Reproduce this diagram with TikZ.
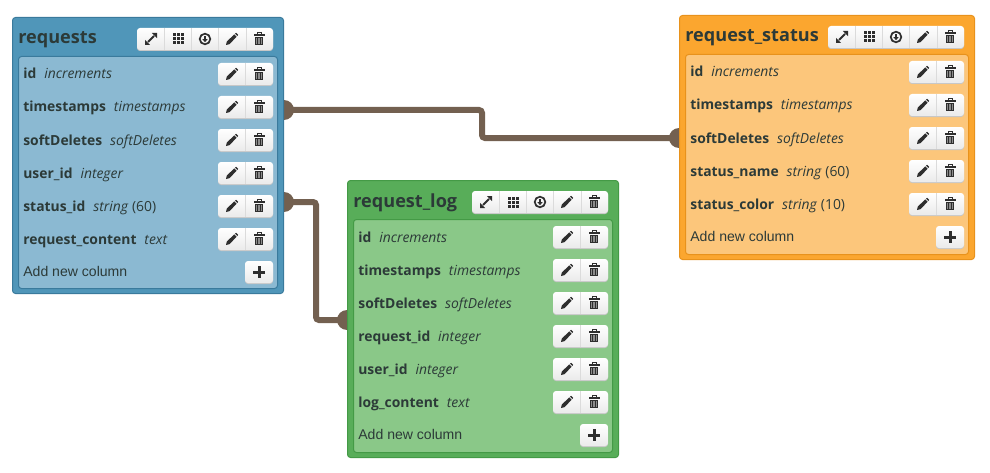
\documentclass[tikz,border=0pt]{standalone}
\usepackage{fontspec}
\setmainfont{Open Sans}
\newfontfamily\addfont{Liberation Sans}
\usepackage{tikz}
\usetikzlibrary{arrows.meta, positioning, calc}
\usepackage{xcolor}
\definecolor{bluehead}{HTML}{5096B9}
\definecolor{bluebody}{HTML}{8BB9D2}
\definecolor{blueedge}{HTML}{3A7A9C}
\definecolor{orangehead}{HTML}{FBA62F}
\definecolor{orangebody}{HTML}{FCC67B}
\definecolor{orangeedge}{HTML}{E8921C}
\definecolor{greenhead}{HTML}{58AD59}
\definecolor{greenbody}{HTML}{8AC888}
\definecolor{greenedge}{HTML}{449A46}
\definecolor{linkbrown}{HTML}{736050}
\definecolor{inkdark}{HTML}{2C3A38}
\definecolor{iconink}{HTML}{2E2E2E}
\def\px{0.02cm}
\tikzset{
  headbox/.style={draw, rounded corners=3*\px, line width=1*\px, anchor=north west, inner sep=0pt},
  bodybox/.style={draw, rounded corners=3*\px, line width=1*\px, anchor=north west, inner sep=0pt},
  tabletitle/.style={anchor=base west, inner sep=0pt, text=inkdark, font=\fontsize{10.3}{13}\selectfont\bfseries},
  colname/.style={anchor=base west, inner sep=0pt, text=inkdark, font=\fontsize{7.9}{10}\selectfont},
  addlabel/.style={anchor=base west, inner sep=0pt, text=inkdark, font=\fontsize{8}{10}\selectfont\addfont},
  linkline/.style={draw=linkbrown, line width=6*\px, rounded corners=3*\px},
  linkdot/.style={circle, fill=linkbrown, minimum size=20*\px, inner sep=0pt},
  btnface/.style={top color=white, bottom color=black!8, rounded corners=3*\px},
  btnshadow/.style={fill=black!22, rounded corners=3*\px},
  icon/.style={fill=iconink, draw=none},
  pics/btnrow/.style={code={
    \path[btnshadow] (0,1) rectangle (#1,23);
    \path[btnface] (0,0) rectangle (#1,22);
  }},
  pics/pencilicon/.style={code={
    \path[icon] (-6,6) -- (-5.2,2.6) -- (2.2,-4.6) -- (4.6,-2.2) -- (-2.6,5.2) -- cycle;
    \path[icon] (3,-5.4) -- (4.2,-6.2) -- (6.2,-4.2) -- (5.4,-3) -- cycle;
  }},
  pics/trashicon/.style={code={
    \path[icon] (-5.5,-4.6) rectangle (5.5,-3.2);
    \draw[iconink, line width=1*\px] (-2,-4.6) rectangle (2,-6.4);
    \path[icon] (-4.4,-2.2) rectangle (4.4,6.4);
    \foreach \sx in {-2.4,-0.8,0.8,2.4}
      \draw[black!45, line width=0.8*\px] (\sx,-1) -- (\sx,5.2);
  }},
  pics/expandicon/.style={code={
    \path[icon] (6,-6) -- (0.8,-6) -- (6,-0.8) -- cycle;
    \path[icon] (-6,6) -- (-0.8,6) -- (-6,0.8) -- cycle;
    \draw[iconink, line width=1.8*\px] (-3,3) -- (3,-3);
  }},
  pics/gridicon/.style={code={
    \foreach \gx in {-5.5,-1.5,2.5}
      \foreach \gy in {-5.5,-1.5,2.5}
        \path[icon] (\gx,\gy) rectangle ++(3,3);
  }},
  pics/dropicon/.style={code={
    \draw[iconink, line width=1.7*\px] (0,0) circle (5.3*\px);
    \path[icon] (-1,-3.2) rectangle (1,0.5);
    \path[icon] (-2.6,0.2) -- (2.6,0.2) -- (0,3.2) -- cycle;
  }},
  pics/plusicon/.style={code={
    \path[icon] (-6,-1.5) rectangle (6,1.5);
    \path[icon] (-1.5,-6) rectangle (1.5,6);
  }},
  pics/colbtns/.style={code={
    \pic {btnrow=55};
    \draw[black!14, line width=0.7*\px] (27,0) -- (27,22);
    \pic at (14,11) {pencilicon};
    \pic at (41,11) {trashicon};
  }},
  pics/addbtn/.style={code={
    \pic {btnrow=28};
    \pic at (14,11) {plusicon};
  }},
  pics/toolbar/.style={code={
    \pic {btnrow=136};
    \foreach \sx in {27,54,81,109}
      \draw[black!14, line width=0.7*\px] (\sx,0) -- (\sx,22);
    \pic at (14,11) {expandicon};
    \pic at (41,11) {gridicon};
    \pic at (68,11) {dropicon};
    \pic at (95,11) {pencilicon};
    \pic at (122,11) {trashicon};
  }},
}
\begin{document}
\begin{tikzpicture}[x=0.02cm, y=-0.02cm]
  \useasboundingbox (0,0) rectangle (990,473);

  % links sit under the tables
  \coordinate (reqlinka) at (284,110);
  \coordinate (reqlinkb) at (284,202);
  \coordinate (statlink) at (679,138);
  \coordinate (loglink) at (347,320);
  \coordinate (benda) at (482,124);
  \coordinate (bendb) at (316,260);
  \draw[linkline] (reqlinka) -| (benda) |- (statlink);
  \draw[linkline] (reqlinkb) -| (bendb) |- (loglink);
  \node[linkdot] (reqdota) at (reqlinka) {};
  \node[linkdot] (reqdotb) at (reqlinkb) {};
  \node[linkdot] (statdot) at (statlink) {};
  \node[linkdot] (logdot) at (loglink) {};

  % requests
  \node[headbox, fill=bluehead, draw=blueedge, minimum width=271*\px, minimum height=276*\px] (reqhead) at (12,17) {};
  \node[bodybox, fill=bluebody, draw=blueedge, minimum width=259*\px, minimum height=232*\px] (reqbody) at (18,56) {};
  \node[tabletitle] (reqtitle) at (18,44) {requests};
  \pic at (137,28) {toolbar};
  \foreach \i/\y/\nm/\tp in {1/74/id/\textit{increments}, 2/107/timestamps/\textit{timestamps},
      3/140/softDeletes/\textit{softDeletes}, 4/173/user\_id/\textit{integer},
      5/206/status\_id/\textit{string} (60), 6/239/request\_content/\textit{text}} {
    \node[colname] (reqcol\i) at (23,\y+5) {\textbf{\nm}\hspace{4.5pt}\tp};
    \pic at (218,\y-11) {colbtns};
  }
  \node[addlabel] (reqadd) at (23,276) {Add new column};
  \pic at (245,261) {addbtn};

  % request_status
  \node[headbox, fill=orangehead, draw=orangeedge, minimum width=295*\px, minimum height=244*\px] (stathead) at (679,15) {};
  \node[bodybox, fill=orangebody, draw=orangeedge, minimum width=283*\px, minimum height=200*\px] (statbody) at (685,54) {};
  \node[tabletitle] (stattitle) at (685,42) {request\_status};
  \pic at (828,26) {toolbar};
  \foreach \i/\y/\nm/\tp in {1/72/id/\textit{increments}, 2/105/timestamps/\textit{timestamps},
      3/138/softDeletes/\textit{softDeletes}, 4/171/status\_name/\textit{string} (60),
      5/204/status\_color/\textit{string} (10)} {
    \node[colname] (statcol\i) at (690,\y+5) {\textbf{\nm}\hspace{4.5pt}\tp};
    \pic at (909,\y-11) {colbtns};
  }
  \node[addlabel] (statadd) at (690,241) {Add new column};
  \pic at (936,226) {addbtn};

  % request_log
  \node[headbox, fill=greenhead, draw=greenedge, minimum width=271*\px, minimum height=277*\px] (loghead) at (347,180) {};
  \node[bodybox, fill=greenbody, draw=greenedge, minimum width=259*\px, minimum height=233*\px] (logbody) at (353,219) {};
  \node[tabletitle] (logtitle) at (353,207) {request\_log};
  \pic at (472,191) {toolbar};
  \foreach \i/\y/\nm/\tp in {1/237/id/\textit{increments}, 2/270/timestamps/\textit{timestamps},
      3/303/softDeletes/\textit{softDeletes}, 4/336/request\_id/\textit{integer},
      5/369/user\_id/\textit{integer}, 6/402/log\_content/\textit{text}} {
    \node[colname] (logcol\i) at (358,\y+5) {\textbf{\nm}\hspace{4.5pt}\tp};
    \pic at (553,\y-11) {colbtns};
  }
  \node[addlabel] (logadd) at (358,439) {Add new column};
  \pic at (580,424) {addbtn};
\end{tikzpicture}
\end{document}
